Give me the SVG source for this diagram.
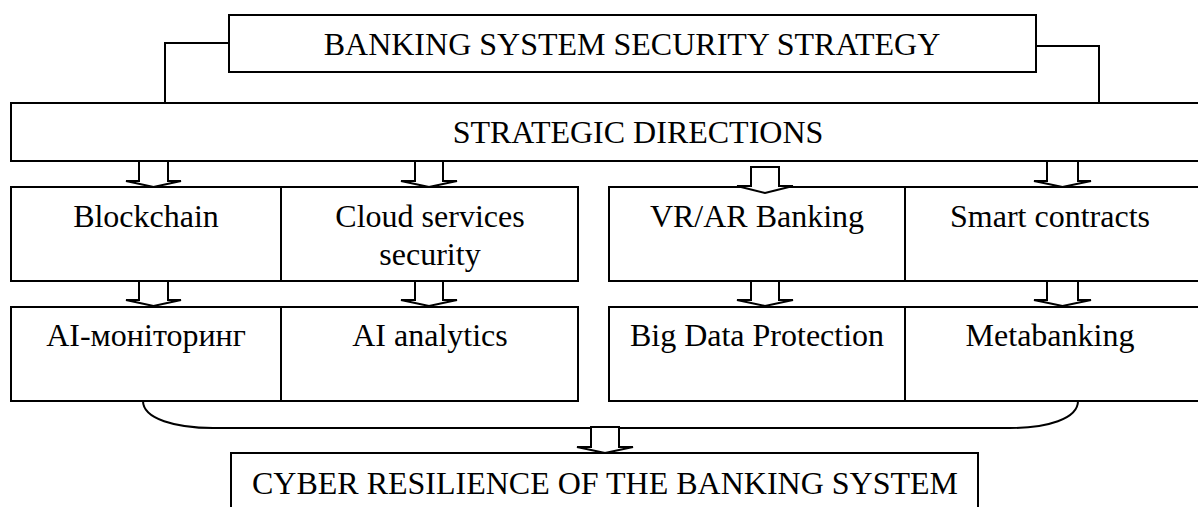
<svg xmlns="http://www.w3.org/2000/svg" width="1198" height="507" viewBox="0 0 1198 507">
<style>
.b{fill:#fff;stroke:#000;stroke-width:2}
.l{fill:none;stroke:#000;stroke-width:2}
.a{fill:#fff;stroke:#000;stroke-width:2;stroke-linejoin:miter}
text{font-family:"Liberation Serif","Times New Roman",serif;font-size:32px;fill:#000;text-anchor:middle}
</style>
<rect width="1198" height="507" fill="#fff"/>
<g id="connectors">
<polyline class="l" points="229,43 165,43 165,103"/>
<polyline class="l" points="1036,46 1099,46 1099,103"/>
<path class="l" d="M143,401 C143,419 176,428 213,428 L1010,428 C1047,428 1078,419 1078,401"/>
</g>
<g id="n-title"><rect class="b" x="229" y="15" width="807" height="57"/><text x="632" y="55">BANKING SYSTEM SECURITY STRATEGY</text></g>
<g id="n-directions"><rect class="b" x="11" y="103" width="1188" height="58"/><text x="638" y="143">STRATEGIC DIRECTIONS</text></g>
<g id="n-blockchain"><rect class="b" x="11" y="187" width="270" height="94"/><text x="146" y="227">Blockchain</text></g>
<g id="n-cloud"><rect class="b" x="281" y="187" width="297" height="94"/><text x="430" y="227">Cloud services</text><text x="430" y="265">security</text></g>
<g id="n-vrar"><rect class="b" x="609" y="187" width="296" height="94"/><text x="757" y="227">VR/AR Banking</text></g>
<g id="n-smart"><rect class="b" x="905" y="187" width="294" height="94"/><text x="1050" y="227">Smart contracts</text></g>
<g id="n-aimon"><rect class="b" x="11" y="307" width="270" height="94"/><text x="146" y="346">AI-моніторинг</text></g>
<g id="n-aian"><rect class="b" x="281" y="307" width="297" height="94"/><text x="430" y="346">AI analytics</text></g>
<g id="n-bigdata"><rect class="b" x="609" y="307" width="296" height="94"/><text x="757" y="346">Big Data Protection</text></g>
<g id="n-meta"><rect class="b" x="905" y="307" width="294" height="94"/><text x="1050" y="346">Metabanking</text></g>
<g id="n-cyber"><rect class="b" x="231" y="453" width="747" height="70"/><text x="605" y="494">CYBER RESILIENCE OF THE BANKING SYSTEM</text></g>
<g id="arrows">
<polygon class="a" points="139,161 168,161 168,181 181,181 153.5,187 126,181 139,181"/>
<polygon class="a" points="415,161 443,161 443,181 457,181 429,187 401,181 415,181"/>
<polygon class="a" points="751,167 779,167 779,186 793,186 765,193 737,186 751,186"/>
<polygon class="a" points="1047,161 1078,161 1078,181 1091,181 1062.5,187 1034,181 1047,181"/>
<polygon class="a" points="139,281 168,281 168,300 181,300 153.5,306 126,300 139,300"/>
<polygon class="a" points="415,281 443,281 443,300 457,300 429,306 401,300 415,300"/>
<polygon class="a" points="751,281 779,281 779,300 793,300 765,306 737,300 751,300"/>
<polygon class="a" points="1047,281 1078,281 1078,300 1091,300 1062.5,306 1034,300 1047,300"/>
<polygon class="a" points="591,427 619,427 619,447 633,447 605,453 577,447 591,447"/>
</g>
</svg>
